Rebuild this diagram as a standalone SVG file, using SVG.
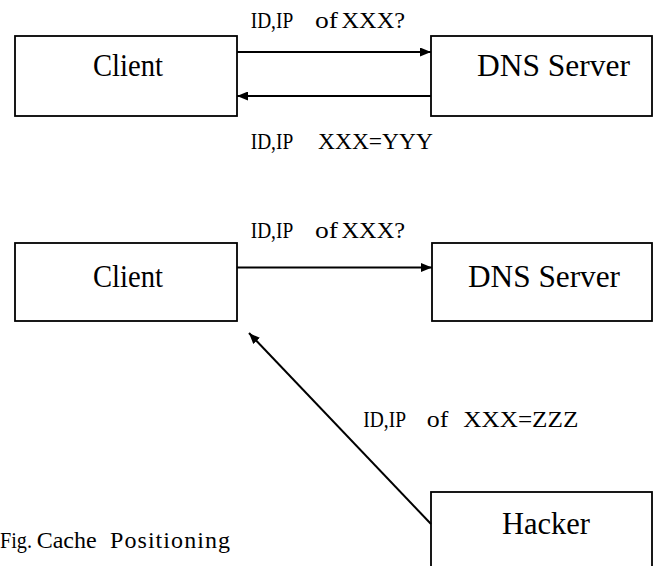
<svg xmlns="http://www.w3.org/2000/svg" width="654" height="566" viewBox="0 0 654 566">
<style>
.box{fill:#fff;stroke:#000;stroke-width:1.8}
text{font-family:"Liberation Serif","Times New Roman",serif;fill:#000}
.nl{font-size:31px}
.lb{font-size:23px}
.cap{font-size:24px}
.ln{stroke:#000;stroke-width:2;fill:none}
</style>
<defs>
<marker id="ah" viewBox="0 0 11 9" refX="11" refY="4.5" markerWidth="11" markerHeight="9" markerUnits="userSpaceOnUse" orient="auto">
<path d="M0,0 L11,4.5 L0,9 Z" fill="#000"/>
</marker>
</defs>
<rect width="654" height="566" fill="#fff"/>
<g id="client1"><rect class="box" x="15" y="36" width="222" height="80"/><text class="nl" x="93" y="76" textLength="70" lengthAdjust="spacingAndGlyphs">Client</text></g>
<g id="dns1"><rect class="box" x="431" y="36" width="221" height="80"/><text class="nl" x="477" y="76" textLength="153" lengthAdjust="spacingAndGlyphs">DNS Server</text></g>
<g id="client2"><rect class="box" x="15" y="243" width="222" height="78"/><text class="nl" x="93" y="287" textLength="70" lengthAdjust="spacingAndGlyphs">Client</text></g>
<g id="dns2"><rect class="box" x="432" y="243" width="220" height="78"/><text class="nl" x="468" y="287" textLength="152" lengthAdjust="spacingAndGlyphs">DNS Server</text></g>
<g id="hacker"><rect class="box" x="431" y="492" width="221" height="90"/><text class="nl" x="502" y="534" textLength="88" lengthAdjust="spacingAndGlyphs">Hacker</text></g>
<g id="connectors">
<line class="ln" x1="237" y1="52" x2="431" y2="52" marker-end="url(#ah)"/>
<line class="ln" x1="431" y1="96" x2="237" y2="96" marker-end="url(#ah)"/>
<line class="ln" x1="237" y1="267.5" x2="432" y2="267.5" marker-end="url(#ah)"/>
<line class="ln" x1="431" y1="524" x2="249" y2="333" marker-end="url(#ah)"/>
</g>
<g id="labels">
<text class="lb" x="250.7" y="28" textLength="42.5" lengthAdjust="spacingAndGlyphs">ID,IP</text>
<text class="lb" x="315" y="28" textLength="23" lengthAdjust="spacingAndGlyphs">of</text>
<text class="lb" x="341.5" y="28" textLength="63.5" lengthAdjust="spacingAndGlyphs">XXX?</text>
<text class="lb" x="250.7" y="149" textLength="42.5" lengthAdjust="spacingAndGlyphs">ID,IP</text>
<text class="lb" x="318" y="149" textLength="115" lengthAdjust="spacingAndGlyphs">XXX=YYY</text>
<text class="lb" x="250.7" y="238" textLength="42.5" lengthAdjust="spacingAndGlyphs">ID,IP</text>
<text class="lb" x="315" y="238" textLength="23" lengthAdjust="spacingAndGlyphs">of</text>
<text class="lb" x="341.5" y="238" textLength="63.5" lengthAdjust="spacingAndGlyphs">XXX?</text>
<text class="lb" x="363.3" y="427" textLength="42.7" lengthAdjust="spacingAndGlyphs">ID,IP</text>
<text class="lb" x="426.7" y="427" textLength="21.6" lengthAdjust="spacingAndGlyphs">of</text>
<text class="lb" x="463.3" y="427" textLength="115" lengthAdjust="spacingAndGlyphs">XXX=ZZZ</text>
<text class="cap" x="0" y="548" textLength="32" lengthAdjust="spacingAndGlyphs">Fig.</text>
<text class="cap" x="36.7" y="548" textLength="60" lengthAdjust="spacingAndGlyphs">Cache</text>
<text class="cap" x="110" y="548" textLength="120" lengthAdjust="spacing">Positioning</text>
</g>
</svg>
